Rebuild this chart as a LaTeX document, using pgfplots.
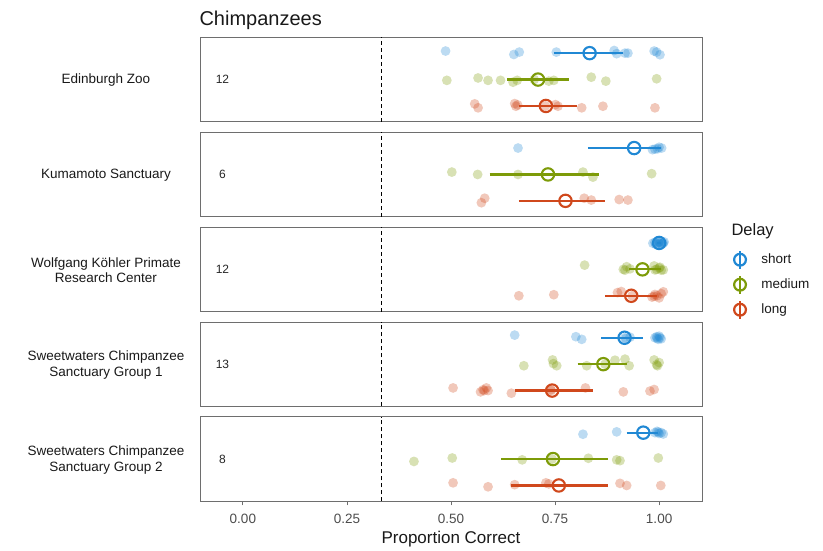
\documentclass[border=0pt]{standalone}
\usepackage{pgfplots}
\pgfplotsset{compat=1.18}
\usepackage{fontspec}
\setmainfont{Liberation Sans}

\definecolor{cshort}{RGB}{32,136,212}
\definecolor{cmed}{RGB}{125,155,8}
\definecolor{clong}{RGB}{208,72,28}
\definecolor{frame}{RGB}{110,110,110}

\pgfplotsset{
  panel/.style={
    scale only axis, width=502pt, height=84.5pt,
    xmin=-0.103, xmax=1.103, ymin=0.4, ymax=3.6,
    xtick=\empty, ytick=\empty,
    axis line style={frame, line width=0.8pt},
    anchor=north west,
  },
  pts/.style={only marks, mark=*, mark size=4.9pt,
    mark options={fill=#1, draw=#1, fill opacity=0.3, draw opacity=0},
    forget plot},
  chance/.style={black, line width=1pt, dash pattern=on 4pt off 3pt, forget plot},
}
% mean with interval: colour, row, mean, lower, upper
\newcommand{\summ}[5]{%
  \addplot[#1, line width=2.2pt, forget plot] coordinates {(#4,#2) (#5,#2)};
  \addplot[#1, only marks, mark=o, mark size=6.2pt, line width=2.1pt, forget plot] coordinates {(#3,#2)};
}
\newcommand{\nlab}[1]{\node[font=\fontsize{12}{12}\selectfont, text=black!85] at (axis cs:-0.049,2) {#1};}

\begin{document}
\begin{tikzpicture}
\useasboundingbox (0,0) rectangle (823pt,-550pt);

\node[anchor=base west, font=\fontsize{20}{20}\selectfont, text=black!90] at (196pt,-25pt) {Chimpanzees};

\tikzset{site/.style={align=center, font=\fontsize{13.5}{15.5}\selectfont, text=black!90}}
\node[site] at (106pt,-80pt) {Edinburgh Zoo};
\node[site] at (106pt,-175.5pt) {Kumamoto Sanctuary};
\node[site] at (106pt,-270pt) {Wolfgang Köhler Primate\\Research Center};
\node[site] at (106pt,-365pt) {Sweetwaters Chimpanzee\\Sanctuary Group 1};
\node[site] at (106pt,-460pt) {Sweetwaters Chimpanzee\\Sanctuary Group 2};

% Edinburgh Zoo
\begin{axis}[panel, at={(200pt,-37.3pt)}]
\addplot[chance] coordinates {(0.3333,0.4) (0.3333,3.6)};
\nlab{12}
\addplot[pts=cshort] coordinates {(0.487,3.08) (0.651,2.95) (0.664,3.04) (0.753,3.04) (0.892,3.10) (0.898,2.98) (0.918,3.00) (0.925,3.00) (0.988,3.08) (0.994,3.04) (1.002,2.94)};
\addplot[pts=cmed] coordinates {(0.490,1.97) (0.565,2.06) (0.589,1.97) (0.619,1.97) (0.649,1.90) (0.659,1.97) (0.700,2.00) (0.735,1.94) (0.747,1.97) (0.837,2.09) (0.872,1.94) (0.994,2.03)};
\addplot[pts=clong] coordinates {(0.557,1.08) (0.565,0.93) (0.653,1.09) (0.656,0.99) (0.660,1.04) (0.727,1.00) (0.751,1.05) (0.757,0.99) (0.814,0.93) (0.865,0.99) (0.990,0.93)};
\summ{cshort}{3}{0.833}{0.747}{0.913}
\summ{cmed}{2}{0.709}{0.635}{0.784}
\summ{clong}{1}{0.728}{0.663}{0.802}
\end{axis}

% Kumamoto Sanctuary
\begin{axis}[panel, at={(200pt,-132.2pt)}]
\addplot[chance] coordinates {(0.3333,0.4) (0.3333,3.6)};
\nlab{6}
\addplot[pts=cshort] coordinates {(0.661,3.00) (0.984,2.94) (0.996,2.97) (1.006,3.00) (1.000,3.03) (0.990,2.96)};
\addplot[pts=cmed] coordinates {(0.502,2.09) (0.564,2.00) (0.661,2.00) (0.817,2.09) (0.841,1.90) (0.982,2.03)};
\addplot[pts=clong] coordinates {(0.573,0.93) (0.581,1.10) (0.820,1.10) (0.837,1.03) (0.904,1.05) (0.925,1.03)};
\summ{cshort}{3}{0.940}{0.829}{1.004}
\summ{cmed}{2}{0.733}{0.593}{0.856}
\summ{clong}{1}{0.775}{0.663}{0.870}
\end{axis}

% Wolfgang Koehler Primate Research Center
\begin{axis}[panel, at={(200pt,-227.1pt)},
  legend style={at={(axis description cs:1.0598,0.762)}, anchor=north west,
    draw=none, fill=none, inner sep=0pt, outer sep=0pt, column sep=13.4pt,
    row sep=0pt, nodes={inner sep=0pt},
    font=\fontsize{13.5}{13.5}\selectfont, text=black!90},
  legend cell align=left,
  legend image code/.code={
    \path[draw=none, fill=none] (-8pt,-12.5pt) rectangle (8pt,12.5pt);
    \draw[#1, line width=2.3pt] (0pt,-9pt) -- (0pt,9pt);
    \draw[#1, line width=2.2pt, fill=none] (0pt,0pt) circle (5.9pt);
  }]
\addplot[chance] coordinates {(0.3333,0.4) (0.3333,3.6)};
\nlab{12}
\addplot[pts=cshort] coordinates {(0.990,3.02) (0.995,2.97) (1.000,3.05) (1.005,2.96) (1.010,3.00) (0.985,2.99) (0.998,3.03) (1.003,2.98) (1.012,3.04) (0.992,2.95) (1.000,3.00) (1.008,2.97)};
\addplot[pts=cmed] coordinates {(0.821,2.16) (0.914,2.00) (0.918,1.97) (0.922,2.10) (0.930,2.02) (0.988,2.13) (0.990,1.98) (0.994,2.00) (1.000,2.05) (1.002,2.08) (1.005,1.97) (1.010,1.98)};
\addplot[pts=clong] coordinates {(0.663,1.00) (0.747,1.04) (0.900,1.12) (0.909,1.16) (0.935,1.00) (0.983,0.95) (0.988,0.98) (0.990,1.05) (0.995,1.00) (1.000,0.92) (1.005,1.08) (1.010,1.15)};
\summ{cshort}{3}{1.000}{0.995}{1.005}
\summ{cmed}{2}{0.960}{0.928}{1.004}
\summ{clong}{1}{0.933}{0.870}{0.996}
\addlegendimage{color=cshort}\addlegendentry{short}
\addlegendimage{color=cmed}\addlegendentry{medium}
\addlegendimage{color=clong}\addlegendentry{long}
\end{axis}

% Sweetwaters Chimpanzee Sanctuary Group 1
\begin{axis}[panel, at={(200pt,-321.9pt)}]
\addplot[chance] coordinates {(0.3333,0.4) (0.3333,3.6)};
\nlab{13}
\addplot[pts=cshort] coordinates {(0.653,3.10) (0.800,3.04) (0.814,2.94) (0.917,3.00) (0.920,2.97) (0.930,3.02) (0.990,3.00) (0.994,3.04) (0.995,2.98) (0.998,2.94) (1.000,3.06) (1.002,3.00) (1.005,2.96)};
\addplot[pts=cmed] coordinates {(0.675,1.94) (0.744,2.16) (0.746,2.02) (0.754,1.94) (0.826,1.94) (0.870,2.00) (0.894,2.15) (0.918,2.19) (0.928,1.94) (0.988,2.16) (0.994,1.98) (0.996,1.94) (1.000,2.06)};
\addplot[pts=clong] coordinates {(0.505,1.10) (0.571,0.95) (0.577,1.03) (0.580,1.00) (0.585,1.10) (0.589,1.00) (0.645,0.90) (0.740,1.03) (0.741,1.00) (0.823,1.10) (0.914,0.95) (0.978,0.98) (0.988,1.04)};
\summ{cshort}{3}{0.917}{0.861}{0.962}
\summ{cmed}{2}{0.866}{0.804}{0.922}
\summ{clong}{1}{0.743}{0.653}{0.840}
\end{axis}

% Sweetwaters Chimpanzee Sanctuary Group 2
\begin{axis}[panel, at={(200pt,-416.8pt)},
  xtick={0,0.25,0.5,0.75,1}, xticklabels={0.00,0.25,0.50,0.75,1.00},
  xtick pos=left, tick align=outside, major tick length=4pt,
  tick style={frame, line width=0.8pt},
  xticklabel style={font=\fontsize{13.5}{13.5}\selectfont, text=black!70, yshift=-5pt},
  xlabel={Proportion Correct},
  xlabel style={font=\fontsize{17}{17}\selectfont, text=black!90, yshift=-1pt}]
\addplot[chance] coordinates {(0.3333,0.4) (0.3333,3.6)};
\nlab{8}
\addplot[pts=cshort] coordinates {(0.817,2.94) (0.898,3.03) (0.990,3.00) (0.995,3.05) (1.000,2.97) (1.005,3.00) (1.010,2.95) (0.998,3.02)};
\addplot[pts=cmed] coordinates {(0.411,1.91) (0.503,2.04) (0.671,1.97) (0.743,2.00) (0.830,2.03) (0.898,1.97) (0.906,1.94) (0.998,2.04)};
\addplot[pts=clong] coordinates {(0.505,1.10) (0.589,0.95) (0.653,1.03) (0.728,1.10) (0.735,1.06) (0.906,1.08) (0.922,1.00) (1.004,1.00)};
\summ{cshort}{3}{0.962}{0.922}{0.998}
\summ{cmed}{2}{0.745}{0.621}{0.878}
\summ{clong}{1}{0.759}{0.643}{0.878}
\end{axis}

\node[anchor=base west, font=\fontsize{16.5}{16.5}\selectfont, text=black!90] at (728pt,-235pt) {Delay};
\end{tikzpicture}
\end{document}
